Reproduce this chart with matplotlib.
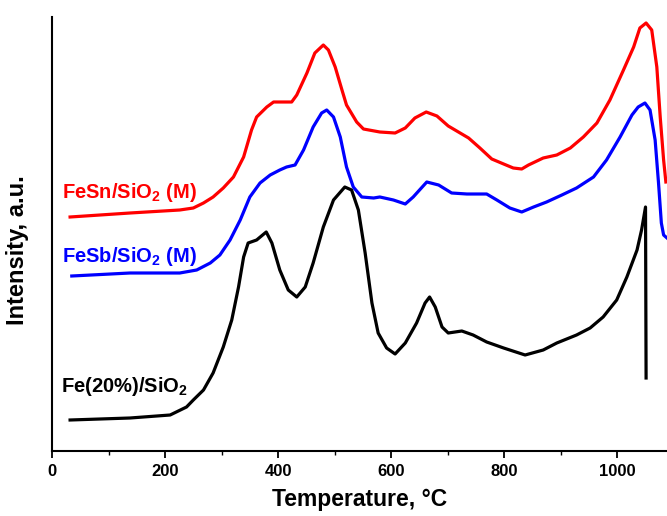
import matplotlib
matplotlib.use("Agg")
import matplotlib.pyplot as plt
from matplotlib.ticker import MultipleLocator

plt.rcParams['font.family'] = ['Liberation Sans', 'DejaVu Sans']
plt.rcParams['font.weight'] = 'bold'
plt.rcParams['mathtext.fontset'] = 'custom'
plt.rcParams['mathtext.rm'] = 'Liberation Sans:bold'
plt.rcParams['mathtext.bf'] = 'Liberation Sans:bold'
plt.rcParams['mathtext.default'] = 'bf'

# Fe(20%)/SiO2
t_fe = [32, 138, 209, 238, 250, 268, 285, 303, 318, 330, 339, 347, 362, 379, 389, 403,
        418, 433, 448, 462, 480, 498, 518, 530, 542, 554, 566, 577, 592, 607, 625, 645,
        660, 668, 678, 690, 701, 725, 745, 769, 799, 837, 869, 893, 928, 952, 975, 999,
        1017, 1035, 1043, 1050, 1051]
i_fe = [31, 33, 36, 44, 51, 61, 78, 104, 131, 164, 194, 208, 211, 219, 208, 181,
        161, 154, 164, 188, 224, 251, 264, 261, 241, 198, 148, 118, 103, 97, 108, 128,
        148, 154, 144, 124, 118, 120, 116, 109, 103, 96, 101, 108, 116, 123, 134, 151,
        174, 201, 221, 244, 73]

# FeSb/SiO2 (M)
t_sb = [35, 138, 226, 256, 280, 297, 315, 333, 350, 368, 386, 403, 415, 430, 445, 462,
        477, 486, 498, 510, 521, 533, 548, 569, 580, 604, 625, 639, 663, 684, 707, 734,
        769, 787, 810, 831, 852, 875, 902, 928, 958, 981, 1005, 1026, 1037, 1049, 1058,
        1067, 1073, 1078, 1082, 1088]
i_sb = [175, 178, 178, 181, 188, 196, 211, 231, 254, 268, 276, 281, 284, 286, 301, 324,
        338, 341, 334, 314, 284, 264, 254, 253, 254, 251, 247, 254, 269, 266, 258, 257,
        257, 251, 243, 239, 244, 249, 256, 263, 274, 291, 314, 336, 344, 348, 341,
        311, 268, 228, 216, 213]

# FeSn/SiO2 (M)
t_sn = [32, 138, 226, 250, 268, 285, 303, 321, 339, 353, 362, 380, 392, 424, 433, 451,
        465, 480, 489, 501, 513, 521, 539, 551, 580, 607, 625, 642, 662, 681, 701, 722,
        737, 757, 778, 799, 816, 831, 843, 869, 893, 917, 940, 964, 987, 1011, 1029,
        1040, 1051, 1061, 1070, 1076, 1082, 1086]
i_sn = [234, 238, 241, 243, 248, 254, 263, 274, 294, 321, 334, 344, 349, 349, 356, 378,
        398, 406, 401, 384, 361, 346, 329, 322, 319, 318, 323, 333, 339, 335, 325, 318,
        313, 303, 292, 287, 283, 282, 286, 293, 296, 303, 314, 328, 351, 381, 404,
        423, 428, 421, 384, 334, 291, 269]

fig = plt.figure(figsize=(6.67, 5.16), dpi=100)
ax = fig.add_axes([52 / 667, 65 / 516, 615 / 667, 434 / 516])

ax.plot(t_sn, i_sn, color='#ff0000', lw=2.3)
ax.plot(t_sb, i_sb, color='#0000ff', lw=2.3)
ax.plot(t_fe, i_fe, color='black', lw=2.3)

ax.text(18, 258, 'FeSn/SiO$_2$ (M)', color='#ff0000', fontsize=14.5, fontweight='bold',
        ha='left', va='center')
ax.text(18, 195, 'FeSb/SiO$_2$ (M)', color='#0000ff', fontsize=14.5, fontweight='bold',
        ha='left', va='center')
ax.text(16, 64, 'Fe(20%)/SiO$_2$', color='black', fontsize=14.5, fontweight='bold',
        ha='left', va='center')

ax.set_xlim(0, 1088)
ax.set_ylim(0, 434)
ax.xaxis.set_major_locator(MultipleLocator(200))
ax.xaxis.set_minor_locator(MultipleLocator(100))
ax.set_yticks([])
for side in ('top', 'right'):
    ax.spines[side].set_visible(False)
for side in ('left', 'bottom'):
    ax.spines[side].set_linewidth(1.5)
ax.tick_params(axis='x', which='major', direction='out', length=5, width=1.3,
               labelsize=12, pad=4)
ax.tick_params(axis='x', which='minor', direction='out', length=3, width=1.0)
for lab in ax.get_xticklabels():
    lab.set_fontweight('bold')

ax.set_xlabel('Temperature, °C', fontsize=16.5, fontweight='bold', labelpad=7)
ax.set_ylabel('Intensity, a.u.', fontsize=17, fontweight='bold')
ax.yaxis.set_label_coords(-0.038, 0.463)

fig.savefig('out.png', dpi=100)
